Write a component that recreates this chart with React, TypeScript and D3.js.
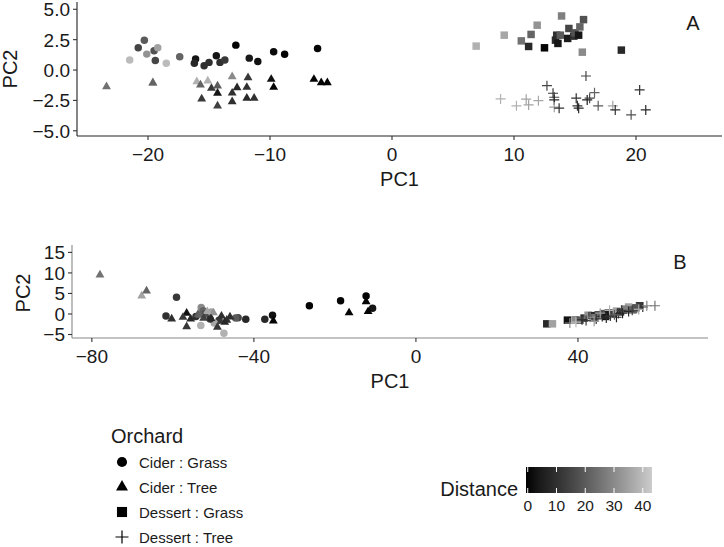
import React from 'react';
import * as d3 from 'd3';

type P = [number, number, number]; // [PC1, PC2, Distance]

// ---------- Panel A data ----------
const aCiderGrass: P[] = [
  [-21.5, 0.82, 40], [-20.8, 1.83, 15], [-20.3, 2.46, 20], [-20.1, 1.31, 32], [-19.5, 1.58, 18],
  [-19.2, 1.83, 35], [-19.4, 0.79, 15], [-18.5, 0.55, 40], [-17.4, 1.09, 22], [-16.1, 0.9, 3],
  [-16.2, 0.55, 8], [-15.4, 0.35, 10], [-15.0, 0.63, 10], [-14.4, 1.17, 3], [-14.1, 0.63, 10],
  [-13.7, 0.82, 12], [-12.8, 2.05, 0], [-11.7, 0.98, 4], [-11.0, 0.71, 2], [-9.7, 1.5, 1],
  [-8.8, 1.29, 0], [-6.1, 1.78, 0],
];
const aCiderTree: P[] = [
  [-23.4, -1.37, 25], [-19.6, -1.1, 35], [-19.6, -1.04, 22], [-16.0, -0.96, 38], [-15.7, -1.23, 22],
  [-15.1, -0.9, 38], [-14.8, -1.5, 12], [-14.3, -1.31, 20], [-15.6, -2.38, 12], [-14.3, -1.91, 3],
  [-14.3, -2.95, 14], [-13.1, -0.55, 30], [-13.1, -1.89, 10], [-13.1, -2.6, 10], [-11.8, -0.63, 12],
  [-11.9, -1.42, 10], [-11.9, -2.32, 8], [-12.7, -1.45, 8], [-11.3, -2.32, 10], [-9.9, -0.76, 2],
  [-9.7, -1.42, 0], [-6.4, -0.76, 0], [-5.8, -1.04, 0], [-5.3, -1.04, 0],
];
const aDessertGrass: P[] = [
  [6.9, 1.97, 38], [9.2, 2.87, 36], [11.9, 3.69, 32], [13.9, 4.45, 28], [11.4, 2.93, 22],
  [10.6, 2.4, 25], [11.2, 1.94, 8], [12.5, 1.83, 0], [13.5, 2.87, 10], [13.4, 2.46, 8],
  [13.6, 2.19, 3], [13.8, 2.87, 20], [14.4, 2.6, 5], [14.5, 3.42, 15], [14.9, 2.79, 10],
  [15.0, 3.06, 18], [15.3, 2.87, 3], [15.4, 3.55, 22], [15.7, 4.15, 18], [15.6, 1.47, 30],
  [18.8, 1.64, 8],
];
const aDessertTree: P[] = [
  [15.9, -0.49, 15], [12.7, -1.29, 15], [16.6, -1.86, 22], [20.3, -1.64, 10], [8.9, -2.38, 38],
  [10.2, -2.95, 38], [11.0, -2.4, 35], [11.2, -2.87, 35], [12.0, -2.52, 36], [13.3, -2.24, 15],
  [13.3, -2.46, 8], [13.3, -3.06, 35], [13.7, -3.14, 10], [15.1, -2.32, 10], [15.2, -2.95, 10],
  [15.3, -3.14, 8], [16.0, -2.46, 5], [16.2, -2.32, 15], [16.9, -2.95, 20], [18.1, -2.95, 35],
  [18.3, -3.28, 10], [19.6, -3.69, 18], [20.8, -3.28, 8], [13.2, -1.91, 12],
];

// ---------- Panel B data ----------
const bCiderGrass: P[] = [
  [-61.7, -0.5, 10], [-59.1, 4.1, 12], [-53.0, 1.6, 30], [-52.5, 0.8, 22], [-53.1, -2.8, 38],
  [-51.5, 0.3, 20], [-48.6, -1.5, 12], [-47.4, -4.7, 38], [-43.9, -0.9, 15], [-42.0, -1.3, 8],
  [-37.3, -1.3, 8], [-35.4, -0.3, 2], [-26.3, 2.0, 0], [-18.6, 3.2, 0], [-12.3, 4.4, 0],
  [-10.7, 1.4, 3], [-52.2, 0.0, 18], [-50.5, 0.5, 35], [-54.3, -0.6, 10], [-49.8, -2.2, 36],
  [-50.8, -1.2, 10], [-44.5, -1.0, 20],
];
const bCiderTree: P[] = [
  [-78.0, 9.5, 25], [-67.7, 4.4, 35], [-66.5, 5.6, 22], [-60.3, -1.2, 10], [-56.6, 0.2, 2],
  [-56.6, -3.1, 12], [-55.6, -1.2, 8], [-53.8, -0.1, 20], [-50.0, 0.3, 32], [-50.6, -1.1, 8],
  [-49.0, -3.2, 12], [-46.7, -1.5, 10], [-45.9, -0.7, 10], [-53.3, -0.3, 22], [-35.2, -1.7, 0],
  [-16.5, 0.3, 0], [-12.3, 3.0, 0], [-11.8, 0.6, 0], [-51.5, 0.6, 36], [-48.0, -0.5, 10],
  [-52.4, -1.0, 14], [-47.2, -2.0, 8], [-57.5, -0.8, 12],
];
const bDessertGrass: P[] = [
  [32.3, -2.4, 8], [33.7, -2.4, 35], [37.4, -1.5, 2], [39.3, -1.4, 30], [41.5, -1.0, 12],
  [42.5, -0.3, 32], [43.5, -0.4, 8], [45.0, -0.2, 15], [46.3, 0.1, 20], [47.5, 0.2, 5],
  [48.5, 0.2, 14], [49.5, 0.7, 35], [50.5, 0.5, 10], [52.5, 1.7, 35], [53.5, 1.0, 22],
  [55.2, 2.0, 12], [44.2, -0.9, 25], [46.8, -0.6, 3], [51.5, 1.2, 28], [54.3, 1.5, 18],
  [40.5, -1.5, 20],
];
const bDessertTree: P[] = [
  [59.0, 2.0, 25], [38.0, -2.2, 30], [44.5, -1.2, 10], [46.0, -0.6, 8], [48.0, -0.5, 12],
  [50.0, 0.1, 15], [52.5, 0.6, 8], [54.5, 1.4, 20], [49.5, -0.8, 6], [45.5, 0.2, 35],
  [47.8, 0.9, 38], [43.0, -0.8, 30], [51.0, 0.2, 5], [56.0, 1.7, 10], [42.0, -1.6, 12],
  [53.4, 0.9, 14], [57.0, 2.0, 28], [41.0, -1.4, 9], [49.0, -0.2, 20], [55.0, 1.1, 36],
  [47.0, -1.0, 9], [50.8, 0.9, 12], [44.0, -1.8, 33], [39.5, -2.0, 40],
];

// ---------- ticks / labels ----------
const ticksAX = [-20, -10, 0, 10, 20];
const ticksAY = [5, 2.5, 0, -2.5, -5];
const ticksBX = [-80, -40, 0, 40];
const ticksBY = [15, 10, 5, 0, -5];
const distanceTicks = [0, 10, 20, 30, 40];
const legendLabels = ['Cider : Grass', 'Cider : Tree', 'Dessert : Grass', 'Dessert : Tree'];
const legendShapes = ['circle', 'triangle', 'square', 'plus'];

const FONT = '"Liberation Sans", Arial, Helvetica, sans-serif';
const distDomain: [number, number] = [-0.6, 43.2];
const color = d3.scaleLinear<string>().domain(distDomain).range(['#000000', '#cccccc']).interpolate(d3.interpolateLab);

const minus = (s: string) => s.replace('-', '\u2212');

function shapePath(shape: string, scale: number): string {
  if (shape === 'circle') return d3.symbol().type(d3.symbolCircle).size(44 * scale * scale)() as string;
  if (shape === 'triangle') return d3.symbol().type(d3.symbolTriangle).size(34 * scale * scale)() as string;
  if (shape === 'square') return d3.symbol().type(d3.symbolSquare).size(56 * scale * scale)() as string;
  const h = 5 * scale;
  return `M${-h},0H${h}M0,${-h}V${h}`;
}

function Marks({ data, shape, x, y }: { data: P[]; shape: string; x: any; y: any }) {
  const d = shapePath(shape, 1);
  return (
    <g>
      {data.map((p, i) =>
        shape === 'plus' ? (
          <path key={i} d={d} transform={`translate(${x(p[0])},${y(p[1])})`} fill="none" stroke={color(p[2])} strokeWidth={1.2} />
        ) : (
          <path key={i} d={d} transform={`translate(${x(p[0])},${y(p[1])})`} fill={color(p[2])} />
        )
      )}
    </g>
  );
}

function Panel(props: {
  x: any; y: any; xt: number[]; yt: number[]; ydec: number;
  sets: P[][]; axisColor: string; label: string; labelX: number; labelY: number;
  pc2X: number; pc2Y: number; pc1Y: number;
}) {
  const { x, y, xt, yt, ydec, sets, axisColor, label } = props;
  const [x0, x1] = x.range();
  const [y0, y1] = y.range(); // y0 bottom, y1 top
  return (
    <g fontFamily={FONT} fill="#1a1a1a">
      {sets.map((s, i) => (
        <Marks key={i} data={s} shape={legendShapes[i]} x={x} y={y} />
      ))}
      <line x1={x0} x2={x0} y1={y1} y2={y0} stroke={axisColor} strokeWidth={1.1} />
      <line x1={x0} x2={x1} y1={y0} y2={y0} stroke={axisColor} strokeWidth={1.1} />
      {yt.map((t) => (
        <g key={'y' + t}>
          <line x1={x0 - 4} x2={x0} y1={y(t)} y2={y(t)} stroke="#333" strokeWidth={1.1} />
          <text x={x0 - 7} y={y(t)} dy="0.36em" textAnchor="end" fontSize={19} fill="#1a1a1a">
            {minus(t.toFixed(ydec))}
          </text>
        </g>
      ))}
      {xt.map((t) => (
        <g key={'x' + t}>
          <line x1={x(t)} x2={x(t)} y1={y0} y2={y0 + 4} stroke="#333" strokeWidth={1.1} />
          <text x={x(t)} y={y0 + 25} textAnchor="middle" fontSize={19} fill="#1a1a1a">
            {minus(String(t))}
          </text>
        </g>
      ))}
      <text x={(x0 + x1) / 2} y={props.pc1Y} textAnchor="middle" fontSize={20} fill="#1a1a1a">PC1</text>
      <text transform={`translate(${props.pc2X},${props.pc2Y}) rotate(-90)`} textAnchor="middle" fontSize={20} fill="#1a1a1a">PC2</text>
      <text x={props.labelX} y={props.labelY} textAnchor="middle" fontSize={20} fill="#1a1a1a">{label}</text>
    </g>
  );
}

export default function App() {
  const xA = d3.scaleLinear().domain([-25.82, 27.05]).range([77, 722]);
  const yA = d3.scaleLinear().domain([-5.43, 5.6]).range([136, 2]);
  const xB = d3.scaleLinear().domain([-84.9, 72.1]).range([72, 708]);
  const yB = d3.scaleLinear().domain([-5.85, 16.8]).range([338, 245]);
  const cb = d3.scaleLinear().domain(distDomain).range([526, 652]);
  const gradStops = d3.range(0, 1.0001, 0.1).map((f) => ({ f, c: color(distDomain[0] + f * (distDomain[1] - distDomain[0])) }));

  return (
    <svg width={724} height={547} style={{ position: 'absolute', left: 0, top: 0, background: '#fff' }}>
      <defs>
        <linearGradient id="distGrad" x1="0" x2="1" y1="0" y2="0">
          {gradStops.map((s, i) => (
            <stop key={i} offset={`${s.f * 100}%`} stopColor={s.c} />
          ))}
        </linearGradient>
      </defs>
      <rect width={724} height={547} fill="#fff" />
      <Panel x={xA} y={yA} xt={ticksAX} yt={ticksAY} ydec={1}
        sets={[aCiderGrass, aCiderTree, aDessertGrass, aDessertTree]}
        axisColor="#222" label="A" labelX={693} labelY={30} pc2X={17} pc2Y={69} pc1Y={186} />
      <Panel x={xB} y={yB} xt={ticksBX} yt={ticksBY} ydec={0}
        sets={[bCiderGrass, bCiderTree, bDessertGrass, bDessertTree]}
        axisColor="#888" label="B" labelX={680} labelY={269} pc2X={30} pc2Y={293} pc1Y={388} />

      {/* shape legend */}
      <g fontFamily={FONT} fill="#1a1a1a">
        <text x={111} y={443} fontSize={20}>Orchard</text>
        {legendLabels.map((lab, i) => {
          const cy = 462 + i * 25;
          const shp = legendShapes[i];
          return (
            <g key={lab}>
              {shp === 'plus' ? (
                <path d={shapePath(shp, 1.3)} transform={`translate(122,${cy})`} fill="none" stroke="#000" strokeWidth={1.2} />
              ) : (
                <path d={shapePath(shp, 1.35)} transform={`translate(122,${cy})`} fill="#000" />
              )}
              <text x={139} y={cy + 6} fontSize={15}>{lab}</text>
            </g>
          );
        })}
      </g>

      {/* colour bar */}
      <g fontFamily={FONT} fill="#1a1a1a">
        <text x={518} y={496} textAnchor="end" fontSize={20}>Distance</text>
        <rect x={526} y={467} width={126} height={26} fill="url(#distGrad)" />
        {distanceTicks.map((t) => (
          <g key={t}>
            <line x1={cb(t)} x2={cb(t)} y1={467} y2={472} stroke="#fff" strokeWidth={1} />
            <line x1={cb(t)} x2={cb(t)} y1={488} y2={493} stroke="#fff" strokeWidth={1} />
            <text x={cb(t)} y={511} textAnchor="middle" fontSize={15.5}>{t}</text>
          </g>
        ))}
      </g>
    </svg>
  );
}
